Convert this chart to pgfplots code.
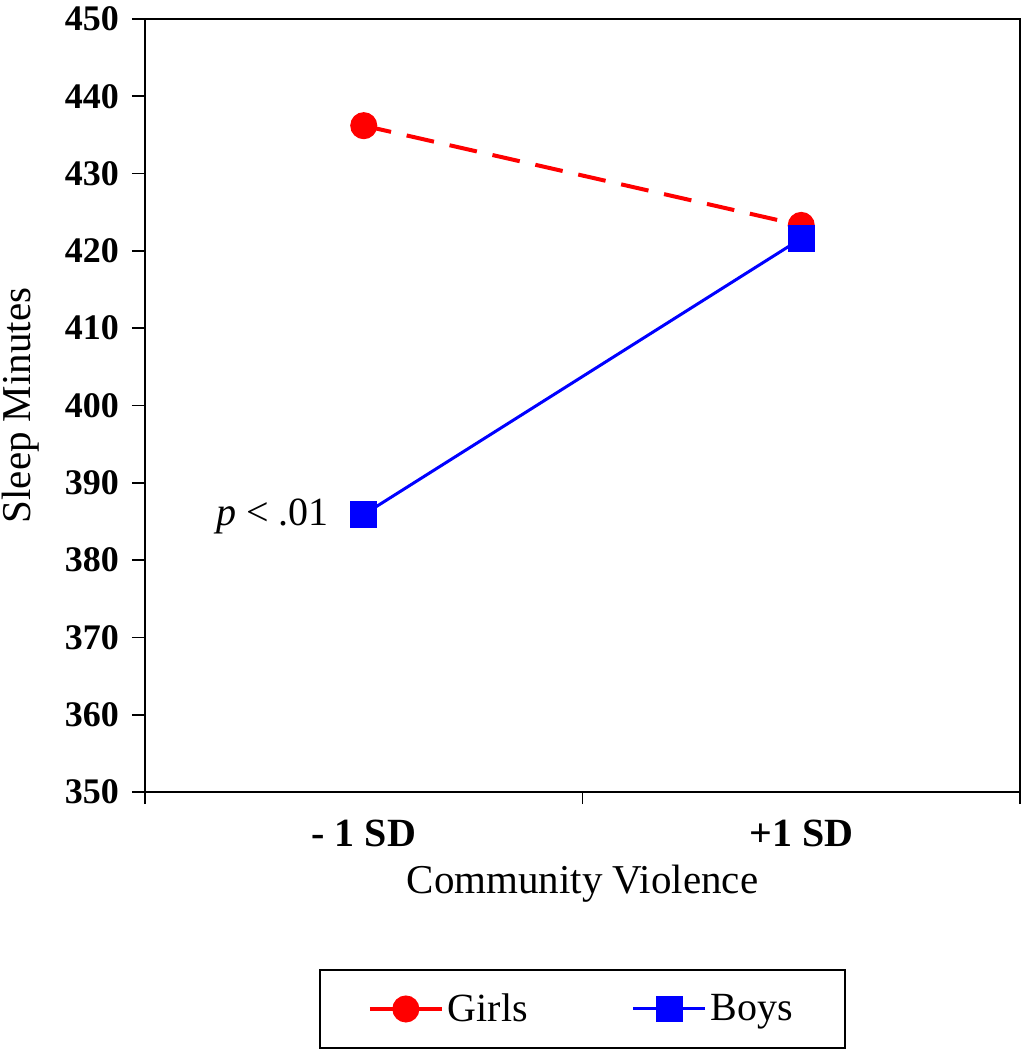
\documentclass[border=0pt]{standalone}
\usepackage{fontspec}
\setmainfont{Liberation Serif}
\usepackage{pgfplots}
\pgfplotsset{compat=1.18}
\begin{document}
\begin{tikzpicture}
\begin{axis}[
  at={(0,0)}, anchor=south west,
  scale only axis,
  width=437.5pt, height=386.5pt,
  xmin=0, xmax=2, ymin=350, ymax=450,
  axis line style={line width=0.9pt},
  xtick={0.5,1.5},
  xticklabels={- 1 SD,+1 SD},
  minor xtick={0,1,2},
  major x tick style={draw=none},
  ytick={350,360,...,450},
  xtick pos=left, ytick pos=left,
  tick align=outside,
  major tick length=6.5pt, minor tick length=6pt,
  tick style={line width=0.9pt, black},
  /pgf/number format/assume math mode=true,
  yticklabel style={xshift=-3pt, font=\bfseries\fontsize{18}{20}\selectfont},
  xticklabel style={yshift=-4pt, font=\bfseries\fontsize{20}{22}\selectfont},
  xlabel={Community Violence},
  ylabel={Sleep Minutes},
  label style={font=\fontsize{20.5}{24}\selectfont},
  xlabel style={yshift=-2pt},
  ylabel style={yshift=6pt},
  legend columns=2,
  legend style={at={(0.5,-0.2807)}, anchor=center, draw=black, line width=0.9pt,
    font=\fontsize{20}{24}\selectfont, inner xsep=24pt, inner ysep=10pt,
    /tikz/every even column/.append style={column sep=50pt}},
  legend image code/.code={\draw[mark repeat=2,mark phase=2,#1,solid] plot coordinates {(0pt,0pt)(18pt,0pt)(36pt,0pt)};},
]
\addplot[red, line width=2pt, dash pattern=on 14pt off 8pt, mark=*, mark size=5.75pt, mark options={solid, fill=red}]
  coordinates {(0.5,436.2) (1.5,423.3)};
\addlegendentry{Girls}
\addplot[blue, line width=1.5pt, mark=square*, mark size=5.9pt, mark options={solid, fill=blue}]
  coordinates {(0.5,385.9) (1.5,421.6)};
\addlegendentry{Boys}
\node[anchor=east, font=\fontsize{20}{24}\selectfont] at (axis cs:0.5,385.6) [xshift=-14pt] {\textit{p} < .01};
\end{axis}
\pgfresetboundingbox
\path[use as bounding box] (-72.5pt,-129pt) rectangle (439pt,396pt);
\end{tikzpicture}
\end{document}
